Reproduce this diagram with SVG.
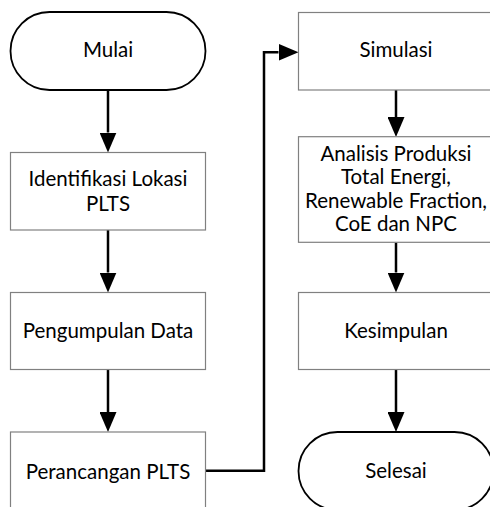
<svg xmlns="http://www.w3.org/2000/svg" width="490" height="507" viewBox="0 0 490 507">
<style>
.term{fill:#fff;stroke:#000;stroke-width:1.8}
.box{fill:#fff;stroke:#808080;stroke-width:1.2}
.lbl{font-family:Lato,"Liberation Sans",sans-serif;font-size:20.5px;fill:#000;text-anchor:middle}
.con{fill:none;stroke:#000;stroke-width:2.5}
</style>
<defs>
<marker id="ah" markerUnits="userSpaceOnUse" markerWidth="20" markerHeight="17" viewBox="0 -8.5 20 17" refX="0" refY="0" orient="auto">
<path d="M0,-8.5 L20,0 L0,8.5 z" fill="#000"/>
</marker>
</defs>
<rect width="490" height="507" fill="#fff"/>
<g id="connectors">
<line class="con" x1="108" y1="90" x2="108" y2="132.5" marker-end="url(#ah)"/>
<line class="con" x1="108" y1="230" x2="108" y2="272.5" marker-end="url(#ah)"/>
<line class="con" x1="108" y1="369.5" x2="108" y2="412" marker-end="url(#ah)"/>
<polyline class="con" points="205,470.7 264,470.7 264,52.3 278.5,52.3" marker-end="url(#ah)"/>
<line class="con" x1="396" y1="90" x2="396" y2="117" marker-end="url(#ah)"/>
<line class="con" x1="396" y1="242.5" x2="396" y2="272.5" marker-end="url(#ah)"/>
<line class="con" x1="396" y1="369.5" x2="396" y2="412" marker-end="url(#ah)"/>
</g>
<g id="mulai">
<rect class="term" x="10.5" y="12" width="195" height="78" rx="39" ry="39"/>
<text class="lbl" x="108" y="57">Mulai</text>
</g>
<g id="identifikasi">
<rect class="box" x="10.5" y="152.5" width="195" height="77.5"/>
<text class="lbl" x="108" y="185.7">Identifikasi Lokasi</text>
<text class="lbl" x="108" y="211">PLTS</text>
</g>
<g id="pengumpulan">
<rect class="box" x="10.5" y="292.5" width="195" height="77"/>
<text class="lbl" x="108" y="338.3">Pengumpulan Data</text>
</g>
<g id="perancangan">
<rect class="box" x="10.5" y="432" width="195" height="80"/>
<text class="lbl" x="108" y="478.5">Perancangan PLTS</text>
</g>
<g id="simulasi">
<rect class="box" x="298.5" y="12.5" width="195" height="77.5"/>
<text class="lbl" x="396" y="57">Simulasi</text>
</g>
<g id="analisis">
<rect class="box" x="298.5" y="136.7" width="195" height="105.6"/>
<text class="lbl" x="396" y="160.7">Analisis Produksi</text>
<text class="lbl" x="396" y="184">Total Energi,</text>
<text class="lbl" x="396" y="208">Renewable Fraction,</text>
<text class="lbl" x="396" y="230.7">CoE dan NPC</text>
</g>
<g id="kesimpulan">
<rect class="box" x="298.5" y="292.5" width="195" height="77"/>
<text class="lbl" x="396" y="338.3">Kesimpulan</text>
</g>
<g id="selesai">
<rect class="term" x="298.5" y="432" width="195" height="78" rx="39" ry="39"/>
<text class="lbl" x="396" y="478.3">Selesai</text>
</g>
</svg>
